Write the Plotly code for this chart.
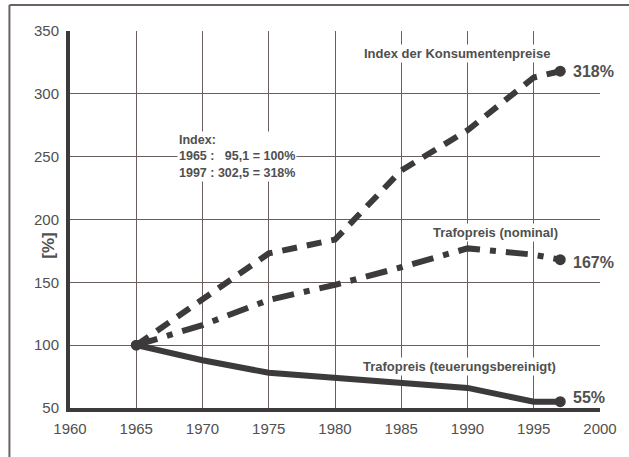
import plotly.graph_objects as go

years_cpi = [1965, 1970, 1975, 1980, 1985, 1990, 1995, 1997]
cpi = [100, 137, 173, 184, 239, 271, 313, 318]

years_nom = [1965, 1970, 1975, 1980, 1985, 1990, 1995, 1997]
nominal = [100, 116, 136, 148, 162, 177, 172, 168]

years_real = [1965, 1970, 1975, 1980, 1985, 1990, 1995, 1997]
real = [100, 88, 78, 74, 70, 66, 55, 55]

x_ticks = [1960, 1965, 1970, 1975, 1980, 1985, 1990, 1995, 2000]
y_ticks = [50, 100, 150, 200, 250, 300, 350]

LINE = "#3d3a3b"
GRID = "#6b5c5e"
TXT = "#505050"
FONT = "Liberation Sans Narrow, Arial Narrow, Liberation Sans, Arial"

fig = go.Figure()

fig.add_trace(go.Scatter(x=years_cpi, y=cpi, mode="lines",
                         line=dict(color=LINE, width=6, dash="15px,10px"),
                         showlegend=False, hoverinfo="skip"))
fig.add_trace(go.Scatter(x=years_nom, y=nominal, mode="lines",
                         line=dict(color=LINE, width=6, dash="22px,10px,6px,10px"),
                         showlegend=False, hoverinfo="skip"))
fig.add_trace(go.Scatter(x=years_real, y=real, mode="lines",
                         line=dict(color=LINE, width=6, shape="linear"),
                         showlegend=False, hoverinfo="skip"))
# start / end markers
fig.add_trace(go.Scatter(x=[years_cpi[0], years_cpi[-1], years_nom[-1], years_real[-1]],
                         y=[cpi[0], cpi[-1], nominal[-1], real[-1]],
                         mode="markers", marker=dict(color=LINE, size=11),
                         showlegend=False, hoverinfo="skip"))

ann = []
def add(text, x, y, xanchor="center", size=14, bold=False, bg=None):
    ann.append(dict(text=("<b>%s</b>" % text) if bold else text, x=x, y=y,
                    xref="x", yref="y", xanchor=xanchor, yanchor="middle",
                    showarrow=False, font=dict(family=FONT, size=size, color=TXT),
                    bgcolor=bg, borderpad=1))

add("Index der Konsumentenpreise", 1989.2, 332, size=13, bold=True, bg="white")
add("318%", 1997.8, 318, xanchor="left", size=16, bold=True)
add("Trafopreis (nominal)", 1992.1, 190, size=13, bold=True, bg="white")
add("167%", 1997.8, 166, xanchor="left", size=16, bold=True)
add("Trafopreis (teuerungsbereinigt)", 1989.4, 83, size=13, bold=True, bg="white")
add("55%", 1997.8, 58, xanchor="left", size=16, bold=True)

ann.append(dict(text="<b>Index:<br>1965 :   95,1 = 100%<br>1997 : 302,5 = 318%</b>",
                x=1968.1, y=250, xref="x", yref="y", xanchor="left", yanchor="middle",
                align="left", showarrow=False, bgcolor="white", borderpad=1,
                font=dict(family=FONT, size=12.5, color=TXT)))
ann.append(dict(text="<b>[%]</b>", textangle=-90, x=-0.04, y=0.43,
                xref="paper", yref="paper", xanchor="center", yanchor="middle",
                showarrow=False, font=dict(family=FONT, size=17, color=TXT)))

fig.update_layout(
    width=629, height=457,
    margin=dict(l=70, r=24, t=31, b=49),
    paper_bgcolor="white", plot_bgcolor="white",
    annotations=ann,
    shapes=[
        dict(type="line", xref="paper", yref="paper", x0=-0.1143, x1=1.1, y0=1.069, y1=1.069,
             line=dict(color="#6b6263", width=2)),
        dict(type="line", xref="paper", yref="paper", x0=-0.1143, x1=-0.1143, y0=1.069, y1=-0.2,
             line=dict(color="#6b6263", width=2)),
    ],
)

fig.update_xaxes(range=[1960, 2000], tickvals=x_ticks, showgrid=True,
                 gridcolor=GRID, gridwidth=1, zeroline=False,
                 showline=True, linecolor=LINE, linewidth=4,
                 ticks="", ticklabelstandoff=4,
                 tickfont=dict(family=FONT, size=15, color=TXT))
fig.update_yaxes(range=[50, 350], tickvals=y_ticks, showgrid=True,
                 gridcolor=GRID, gridwidth=1, zeroline=False,
                 showline=True, linecolor=LINE, linewidth=4,
                 ticks="", ticklabelstandoff=4,
                 tickfont=dict(family=FONT, size=15, color=TXT))

fig.write_html("out.html", config={"displayModeBar": False},
               post_script="document.body.style.margin='0';document.body.style.overflow='hidden';")
